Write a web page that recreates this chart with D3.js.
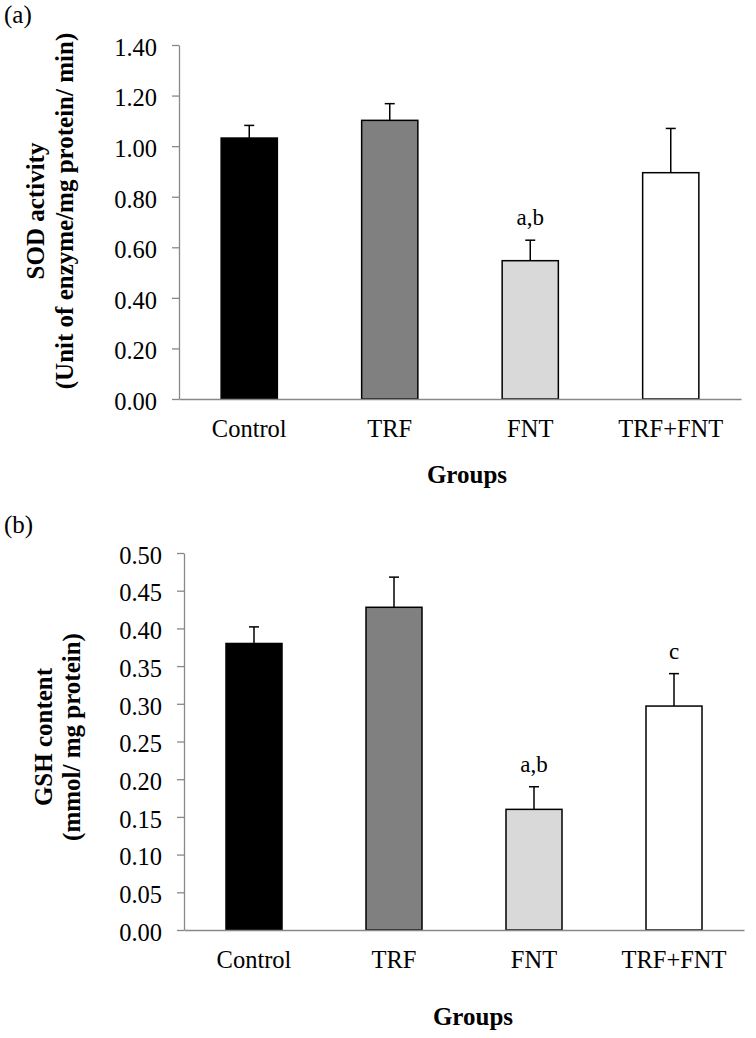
<!DOCTYPE html>
<html>
<head>
<meta charset="utf-8">
<script src="https://cdn.jsdelivr.net/npm/d3@7"></script>
<style>
  html, body { margin: 0; padding: 0; background: #fff; }
  svg { display: block; }
  text { font-family: "Liberation Serif", "Times New Roman", serif; fill: #000; }
</style>
</head>
<body>
<svg id="chart" width="756" height="1038"></svg>
<script>
// ---------- data ----------
const groups = ["Control", "TRF", "FNT", "TRF+FNT"];
const barFills = ["#000000", "#808080", "#d9d9d9", "#ffffff"];

const sodMean = [1.032, 1.102, 0.547, 0.895];
const sodErr = [0.050, 0.066, 0.081, 0.175];
const sodSig = ["", "", "a,b", ""];
const sodTicks = [0, 0.2, 0.4, 0.6, 0.8, 1.0, 1.2, 1.4];

const gshMean = [0.380, 0.428, 0.160, 0.297];
const gshErr = [0.022, 0.040, 0.030, 0.043];
const gshSig = ["", "", "a,b", "c"];
const gshTicks = [0, 0.05, 0.10, 0.15, 0.20, 0.25, 0.30, 0.35, 0.40, 0.45, 0.50];

const svg = d3.select("#chart");
const axisColor = "#888888";
const serif = '"Liberation Serif", "Times New Roman", serif';

function drawPanel(cfg) {
  const g = svg.append("g");
  const x = d3.scaleBand().domain(groups).range([cfg.x0, cfg.x1]).padding(0);
  const y = d3.scaleLinear().domain([0, cfg.max]).range([cfg.y0, cfg.y1]);
  const bw = x.bandwidth() * 0.4;

  // panel letter
  g.append("text").attr("x", 4).attr("y", cfg.letterY)
    .style("font-size", "25px").text(cfg.letter);

  // y axis
  const ya = g.append("g").attr("transform", `translate(${cfg.x0},0)`)
    .call(d3.axisLeft(y).tickValues(cfg.ticks).tickSize(7).tickSizeOuter(0)
      .tickPadding(15).tickFormat(d3.format(".2f")));
  ya.select(".domain").attr("stroke", axisColor).attr("stroke-width", 1.3);
  ya.selectAll(".tick line").attr("stroke", axisColor).attr("stroke-width", 1.3);
  ya.selectAll(".tick text").style("font-size", "24.5px")
    .style("font-family", serif)
    .attr("dy", "0.42em").attr("fill", "#000");

  // bars
  g.selectAll("rect.bar").data(groups).join("rect").attr("class", "bar")
    .attr("x", d => x(d) + x.bandwidth() / 2 - bw / 2)
    .attr("width", bw)
    .attr("y", (d, i) => y(cfg.mean[i]))
    .attr("height", (d, i) => y(0) - y(cfg.mean[i]))
    .attr("fill", (d, i) => barFills[i])
    .attr("stroke", "#000").attr("stroke-width", 1.5);

  // error bars (upper only)
  const eb = g.selectAll("g.err").data(groups).join("g").attr("class", "err");
  eb.append("line")
    .attr("x1", d => x(d) + x.bandwidth() / 2).attr("x2", d => x(d) + x.bandwidth() / 2)
    .attr("y1", (d, i) => y(cfg.mean[i]))
    .attr("y2", (d, i) => y(cfg.mean[i] + cfg.err[i]))
    .attr("stroke", "#000").attr("stroke-width", 1.5);
  eb.append("line")
    .attr("x1", d => x(d) + x.bandwidth() / 2 - 5).attr("x2", d => x(d) + x.bandwidth() / 2 + 5)
    .attr("y1", (d, i) => y(cfg.mean[i] + cfg.err[i]))
    .attr("y2", (d, i) => y(cfg.mean[i] + cfg.err[i]))
    .attr("stroke", "#000").attr("stroke-width", 1.5);

  // significance letters
  g.selectAll("text.sig").data(groups).join("text").attr("class", "sig")
    .attr("x", d => x(d) + x.bandwidth() / 2)
    .attr("y", (d, i) => y(cfg.mean[i] + cfg.err[i]) - 15)
    .attr("text-anchor", "middle").style("font-size", "23px")
    .text((d, i) => cfg.sig[i]);

  // x axis
  const xa = g.append("g").attr("transform", `translate(0,${cfg.y0})`)
    .call(d3.axisBottom(x).tickSize(0).tickSizeOuter(0));
  xa.select(".domain").attr("stroke", axisColor).attr("stroke-width", 1.3);
  xa.selectAll(".tick text").style("font-size", "24.5px")
    .style("font-family", serif)
    .attr("fill", "#000").attr("dy", null).attr("y", 38);

  // x title
  g.append("text").attr("x", cfg.groupsX).attr("y", cfg.groupsY)
    .attr("text-anchor", "middle").style("font-size", "25px").style("font-weight", "bold")
    .text("Groups");

  // y title (two lines)
  cfg.yTitle.forEach((t, k) => {
    g.append("text")
      .attr("transform", `translate(${cfg.yTitleX[k]},${cfg.yTitleC}) rotate(-90)`)
      .attr("text-anchor", "middle").style("font-size", "25px").style("font-weight", "bold")
      .text(t);
  });
}

drawPanel({
  letter: "(a)", letterY: 23,
  x0: 179, x1: 741, y0: 399, y1: 45, max: 1.4, ticks: sodTicks,
  mean: sodMean, err: sodErr, sig: sodSig,
  groupsX: 467, groupsY: 483,
  yTitle: ["SOD activity", "(Unit of enzyme/mg protein/ min)"],
  yTitleX: [43.5, 73], yTitleC: 211
});

drawPanel({
  letter: "(b)", letterY: 533,
  x0: 184, x1: 744, y0: 930, y1: 553, max: 0.5, ticks: gshTicks,
  mean: gshMean, err: gshErr, sig: gshSig,
  groupsX: 473, groupsY: 1025,
  yTitle: ["GSH content", "(mmol/ mg protein)"],
  yTitleX: [52, 80], yTitleC: 737
});
</script>
</body>
</html>
